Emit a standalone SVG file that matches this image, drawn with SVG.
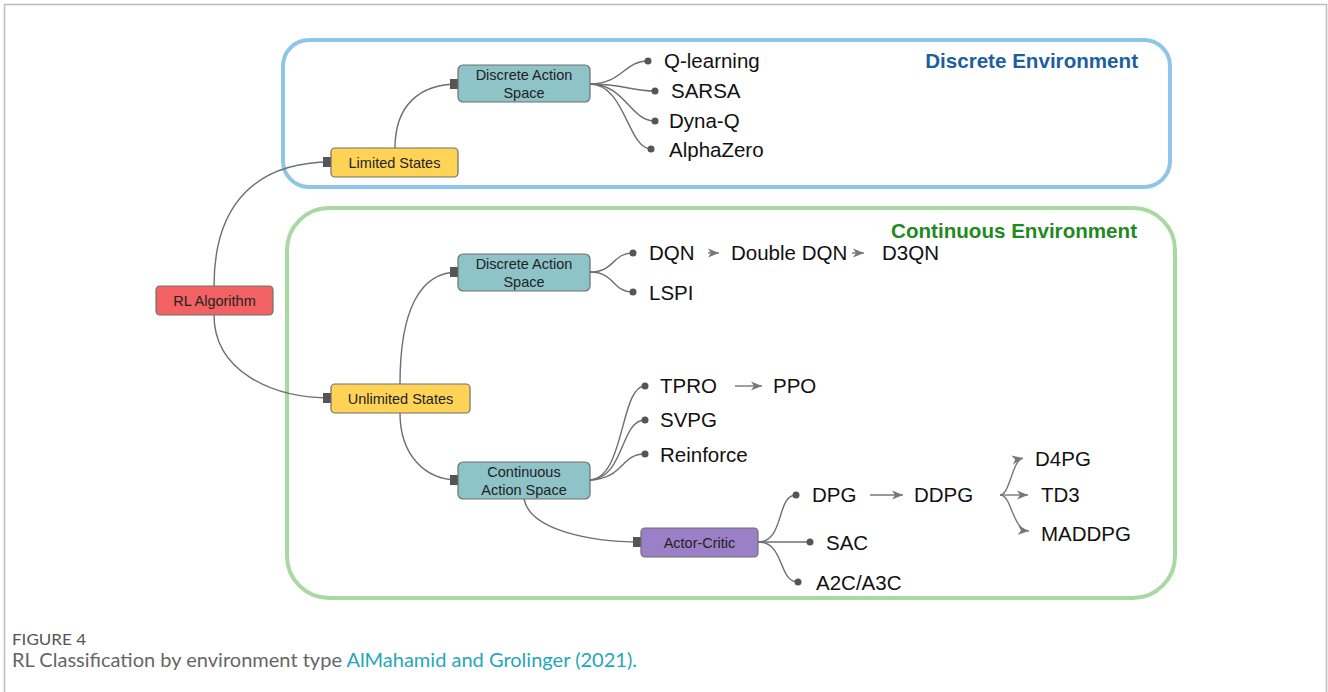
<svg xmlns="http://www.w3.org/2000/svg" width="1328" height="692" viewBox="0 0 1328 692">
  <defs>
    <style>
      .frame{fill:#fff;stroke:#bdbdbd;stroke-width:1.5}
      .env{fill:none;stroke-width:4}
      .node rect{stroke:#6f6f6f;stroke-width:1.2}
      .nt{font-family:"Liberation Sans",Arial,sans-serif;font-size:14.5px;fill:#222;text-anchor:middle}
      .leaf{font-family:"Liberation Sans",Arial,sans-serif;font-size:20.5px;fill:#111}
      .conn{fill:none;stroke:#6e6e6e;stroke-width:1.4}
      .ar{fill:none;stroke:#777;stroke-width:1.4}
      .title{font-family:"Liberation Sans",Arial,sans-serif;font-size:20.6px;font-weight:bold}
      .cap{font-family:Lato,"Open Sans",sans-serif}
    </style>
    <marker id="sq" viewBox="0 0 8 10" refX="8" refY="5" markerWidth="8" markerHeight="10" markerUnits="userSpaceOnUse" orient="auto">
      <rect x="0" y="0" width="8" height="10" fill="#555"/>
    </marker>
    <marker id="dotm" viewBox="0 0 8 8" refX="4" refY="4" markerWidth="8" markerHeight="8" markerUnits="userSpaceOnUse">
      <circle cx="4" cy="4" r="3.5" fill="#555"/>
    </marker>
    <marker id="arr" viewBox="0 0 12 10" refX="11" refY="5" markerWidth="12" markerHeight="10" markerUnits="userSpaceOnUse" orient="auto">
      <path d="M0,0.5 L11,5 L0,9.5 L3,5 Z" fill="#777"/>
    </marker>
  </defs>

  <rect class="frame" x="4.5" y="4.5" width="1322" height="720"/>

  <g id="envs">
    <rect class="env" x="283" y="40" width="887" height="147" rx="26" stroke="#8ec6ea"/>
    <rect class="env" x="287" y="208" width="888" height="390" rx="42" stroke="#a9d9a3"/>
    <text class="title" x="1138" y="68" text-anchor="end" fill="#1d5f9f">Discrete Environment</text>
    <text class="title" x="1137" y="238" text-anchor="end" fill="#1f8a22">Continuous Environment</text>
  </g>

  <g id="connectors">
    <path class="conn" d="M214,286 C214,200 260,162 331,162" marker-end="url(#sq)"/>
    <path class="conn" d="M214,315 C214,370 270,398 331,398" marker-end="url(#sq)"/>
    <path class="conn" d="M395,148 C395,105 420,84 458,84" marker-end="url(#sq)"/>
    <path class="conn" d="M400,384 C400,310 420,272 458,272" marker-end="url(#sq)"/>
    <path class="conn" d="M400,413 C400,455 425,480 458,480" marker-end="url(#sq)"/>
    <path class="conn" d="M524,499 C530,530 590,542 641,542" marker-end="url(#sq)"/>

    <path class="conn" d="M590,84 C622,84 624,61 648,61" marker-end="url(#dotm)"/>
    <path class="conn" d="M590,84 C625,84 630,91 655,91" marker-end="url(#dotm)"/>
    <path class="conn" d="M590,84 C625,84 630,121 655,121" marker-end="url(#dotm)"/>
    <path class="conn" d="M590,84 C625,84 628,149 651,149" marker-end="url(#dotm)"/>

    <path class="conn" d="M590,272 C615,272 612,253 633,253" marker-end="url(#dotm)"/>
    <path class="conn" d="M590,272 C615,272 612,292 633,292" marker-end="url(#dotm)"/>

    <path class="conn" d="M590,480 C625,478 620,386 645,386" marker-end="url(#dotm)"/>
    <path class="conn" d="M590,480 C625,478 620,420 645,420" marker-end="url(#dotm)"/>
    <path class="conn" d="M590,480 C625,478 620,454 645,454" marker-end="url(#dotm)"/>

    <path class="conn" d="M758,542 C785,542 776,495 796,495" marker-end="url(#dotm)"/>
    <path class="conn" d="M758,542 L810,542" marker-end="url(#dotm)"/>
    <path class="conn" d="M758,542 C785,542 778,582 798,582" marker-end="url(#dotm)"/>

    <path class="ar" d="M708,253 L719,253" marker-end="url(#arr)"/>
    <path class="ar" d="M852,253 L864,253" marker-end="url(#arr)"/>
    <path class="ar" d="M735,386 L762,386" marker-end="url(#arr)"/>
    <path class="ar" d="M870,495 L903,495" marker-end="url(#arr)"/>
    <path class="ar" d="M1000,495 C1010,495 1012,460 1023,458" marker-end="url(#arr)"/>
    <path class="ar" d="M1000,495 L1028,495" marker-end="url(#arr)"/>
    <path class="ar" d="M1000,495 C1012,495 1012,530 1029,531" marker-end="url(#arr)"/>
  </g>

  <g id="rl-algorithm" class="node">
    <rect x="156" y="286" width="117" height="29" rx="4" fill="#f26262"/>
    <text class="nt" x="214.5" y="305.5">RL Algorithm</text>
  </g>
  <g id="limited-states" class="node">
    <rect x="331" y="148" width="127" height="29" rx="4" fill="#ffd456"/>
    <text class="nt" x="394.5" y="167.5">Limited States</text>
  </g>
  <g id="unlimited-states" class="node">
    <rect x="331" y="384" width="139" height="29" rx="4" fill="#ffd456"/>
    <text class="nt" x="400.5" y="403.5">Unlimited States</text>
  </g>
  <g id="discrete-action-space-1" class="node">
    <rect x="458" y="65" width="132" height="37" rx="5" fill="#8ec3c8"/>
    <text class="nt" x="524" y="80">Discrete Action</text>
    <text class="nt" x="524" y="98">Space</text>
  </g>
  <g id="discrete-action-space-2" class="node">
    <rect x="458" y="254" width="132" height="37" rx="5" fill="#8ec3c8"/>
    <text class="nt" x="524" y="269">Discrete Action</text>
    <text class="nt" x="524" y="287">Space</text>
  </g>
  <g id="continuous-action-space" class="node">
    <rect x="458" y="462" width="132" height="37" rx="5" fill="#8ec3c8"/>
    <text class="nt" x="524" y="477">Continuous</text>
    <text class="nt" x="524" y="495">Action Space</text>
  </g>
  <g id="actor-critic" class="node">
    <rect x="641" y="528" width="117" height="29" rx="4" fill="#9b7fc7"/>
    <text class="nt" x="699.5" y="547.5">Actor-Critic</text>
  </g>

  <g id="leaves">
    <text class="leaf" x="664" y="68">Q-learning</text>
    <text class="leaf" x="671" y="98">SARSA</text>
    <text class="leaf" x="669" y="128">Dyna-Q</text>
    <text class="leaf" x="669" y="157">AlphaZero</text>
    <text class="leaf" x="649" y="260">DQN</text>
    <text class="leaf" x="731" y="260">Double DQN</text>
    <text class="leaf" x="882" y="260">D3QN</text>
    <text class="leaf" x="649" y="300">LSPI</text>
    <text class="leaf" x="660" y="393">TPRO</text>
    <text class="leaf" x="773" y="393">PPO</text>
    <text class="leaf" x="660" y="427">SVPG</text>
    <text class="leaf" x="660" y="462">Reinforce</text>
    <text class="leaf" x="812" y="502">DPG</text>
    <text class="leaf" x="914" y="502">DDPG</text>
    <text class="leaf" x="826" y="550">SAC</text>
    <text class="leaf" x="816" y="590">A2C/A3C</text>
    <text class="leaf" x="1035" y="466">D4PG</text>
    <text class="leaf" x="1041" y="502">TD3</text>
    <text class="leaf" x="1041" y="541">MADDPG</text>
  </g>

  <g id="caption">
    <text class="cap" x="12" y="645" font-size="15" fill="#555" textLength="74" lengthAdjust="spacingAndGlyphs">FIGURE 4</text>
    <text class="cap" x="12" y="667" font-size="19" fill="#666" textLength="625" lengthAdjust="spacingAndGlyphs">RL Classification by environment type <tspan fill="#1fa7ba">AlMahamid and Grolinger (2021).</tspan></text>
  </g>
</svg>
